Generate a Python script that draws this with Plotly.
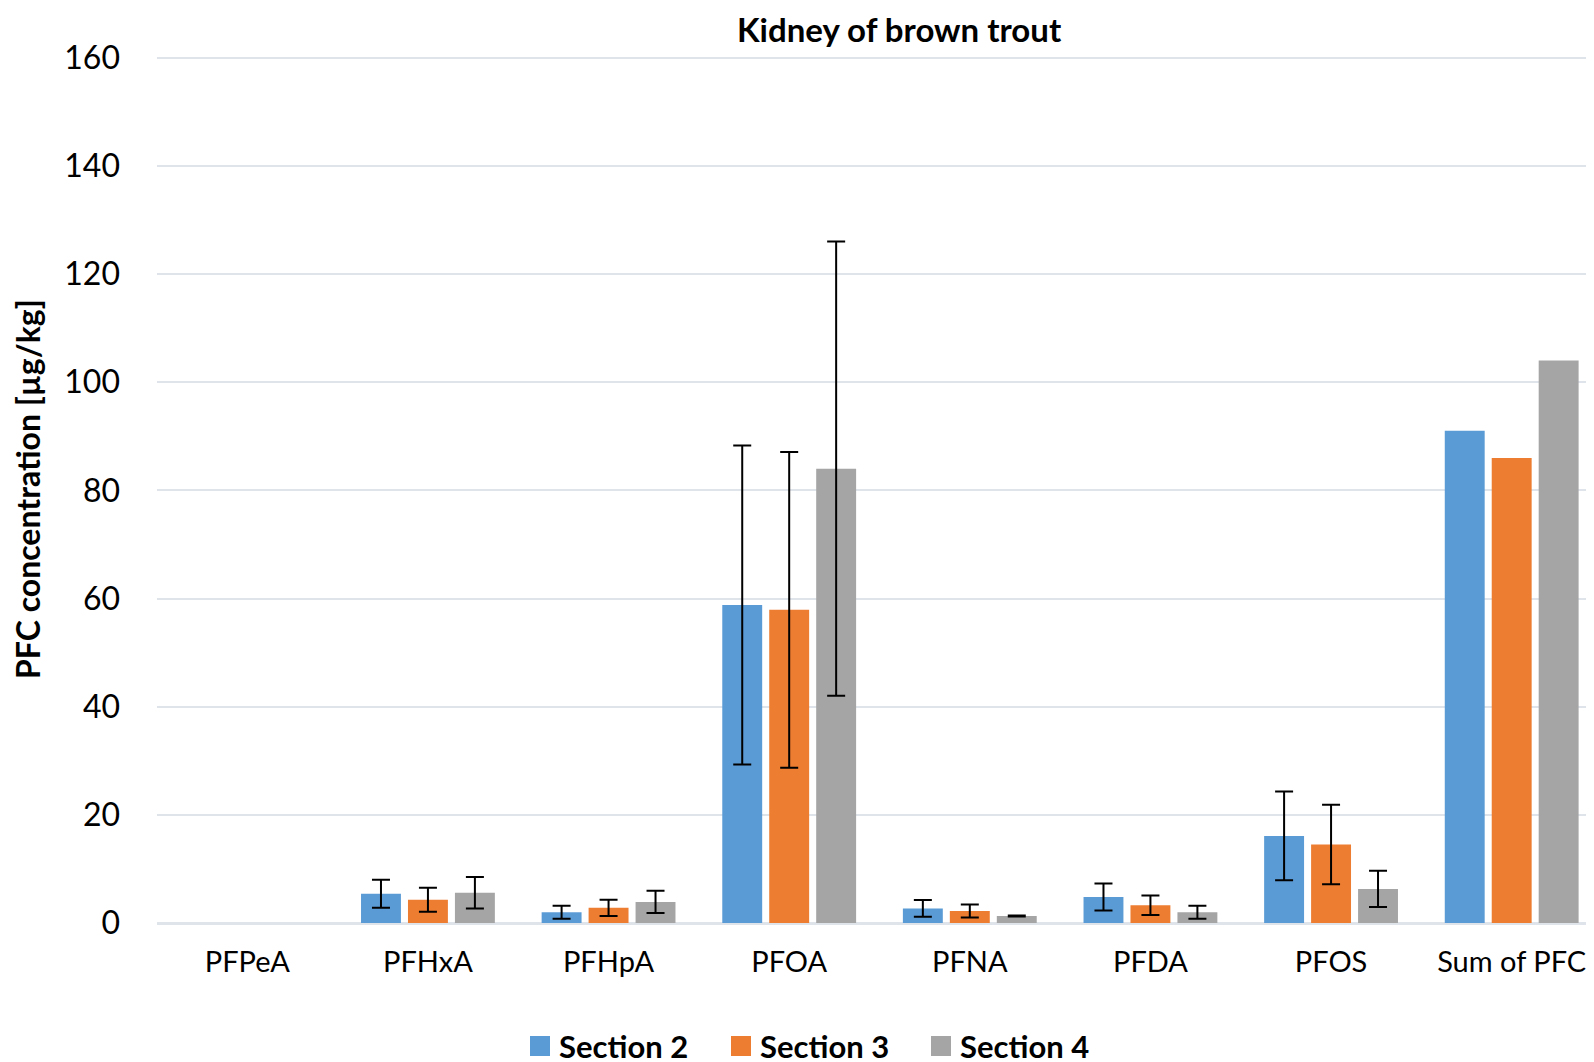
import plotly.graph_objects as go

categories = ["PFPeA", "PFHxA", "PFHpA", "PFOA", "PFNA", "PFDA", "PFOS", "Sum of PFC"]
series_names = ["Section 2", "Section 3", "Section 4"]

s2_values = [0, 5.4, 2.0, 58.8, 2.7, 4.8, 16.1, 91.0]
s3_values = [0, 4.3, 2.8, 57.9, 2.2, 3.3, 14.5, 86.0]
s4_values = [0, 5.6, 3.9, 84.0, 1.3, 2.0, 6.3, 104.0]

# standard deviation (None = no error bar shown)
s2_err = [None, 2.6, 1.2, 29.5, 1.55, 2.5, 8.2, None]
s3_err = [None, 2.2, 1.5, 29.2, 1.2, 1.8, 7.35, None]
s4_err = [None, 2.9, 2.05, 42.0, 0.1, 1.2, 3.35, None]

colors = ["#5B9BD5", "#ED7D31", "#A5A5A5"]
y_ticks = [0, 20, 40, 60, 80, 100, 120, 140, 160]

FONT = "Lato"
TOP, BOTTOM, LEFT = 47, 915, 149
W, H = 1594, 1062
PH = BOTTOM - TOP
PW = W - LEFT

fig = go.Figure()
for k, (name, vals, errs, col) in enumerate(zip(series_names, [s2_values, s3_values, s4_values],
                                            [s2_err, s3_err, s4_err], colors)):
    with_err = [i for i, e in enumerate(errs) if e is not None]
    no_err = [i for i, e in enumerate(errs) if e is None]
    fig.add_trace(go.Bar(
        name=name, x=[categories[i] for i in with_err], y=[vals[i] for i in with_err],
        offsetgroup=str(k), showlegend=False,
        marker=dict(color=col, line=dict(width=0)),
        error_y=dict(type="data", array=[errs[i] for i in with_err],
                     visible=True, color="black", thickness=2, width=9),
    ))
    fig.add_trace(go.Bar(
        name=name, x=[categories[i] for i in no_err], y=[vals[i] for i in no_err],
        offsetgroup=str(k), showlegend=False,
        marker=dict(color=col, line=dict(width=0)),
    ))

# manual legend (squares + bold labels) below the plot
shapes = []
annotations = []
legend_sq_x = [522, 723, 923]
LEG_Y = 1038
for name, col, sx in zip(series_names, colors, legend_sq_x):
    shapes.append(dict(type="rect", xref="paper", yref="paper",
                       x0=(sx - LEFT) / PW, x1=(sx + 20 - LEFT) / PW,
                       y0=-(LEG_Y + 10 - BOTTOM) / PH, y1=-(LEG_Y - 10 - BOTTOM) / PH,
                       fillcolor=col, line=dict(width=0)))
    annotations.append(dict(text=f"<b>{name}</b>", xref="paper", yref="paper",
                            x=(sx + 27 - LEFT) / PW, y=-(LEG_Y - BOTTOM) / PH,
                            xanchor="left", yanchor="middle", showarrow=False,
                            font=dict(family=FONT, size=31, color="black")))

annotations += [
    dict(text="<b>Kidney of brown trout</b>", x=(891 - LEFT) / PW, xref="paper",
         y=1 + TOP / PH, yref="paper", yanchor="top", xanchor="center",
         showarrow=False, borderpad=0, font=dict(family=FONT, size=33)),
    dict(text="<b>PFC concentration [µg/kg]</b>", x=(19 - LEFT) / PW, xref="paper",
         y=0.5, yref="paper", textangle=-90, showarrow=False,
         xanchor="center", yanchor="middle", font=dict(family=FONT, size=32)),
]

fig.update_layout(
    width=W, height=H,
    margin=dict(l=LEFT, r=0, t=TOP, b=H - BOTTOM),
    paper_bgcolor="white", plot_bgcolor="white",
    barmode="group", bargap=0.22, bargroupgap=0.15,
    font=dict(family=FONT, size=30, color="black"),
    showlegend=False,
    shapes=shapes,
    annotations=annotations,
)

fig.update_xaxes(showgrid=False, showline=False, ticks="", ticklabelstandoff=19,
                 categoryorder="array", categoryarray=categories,
                 tickfont=dict(family=FONT, size=29))
fig.update_yaxes(range=[0, 160.5], tickvals=y_ticks, showgrid=True, gridcolor="#DFE3EA",
                 gridwidth=2, zeroline=True, zerolinecolor="#DFE3EA", zerolinewidth=3,
                 showline=False, ticks="", ticklabelstandoff=36,
                 tickfont=dict(family=FONT, size=32))

fig.write_html("out.html")
